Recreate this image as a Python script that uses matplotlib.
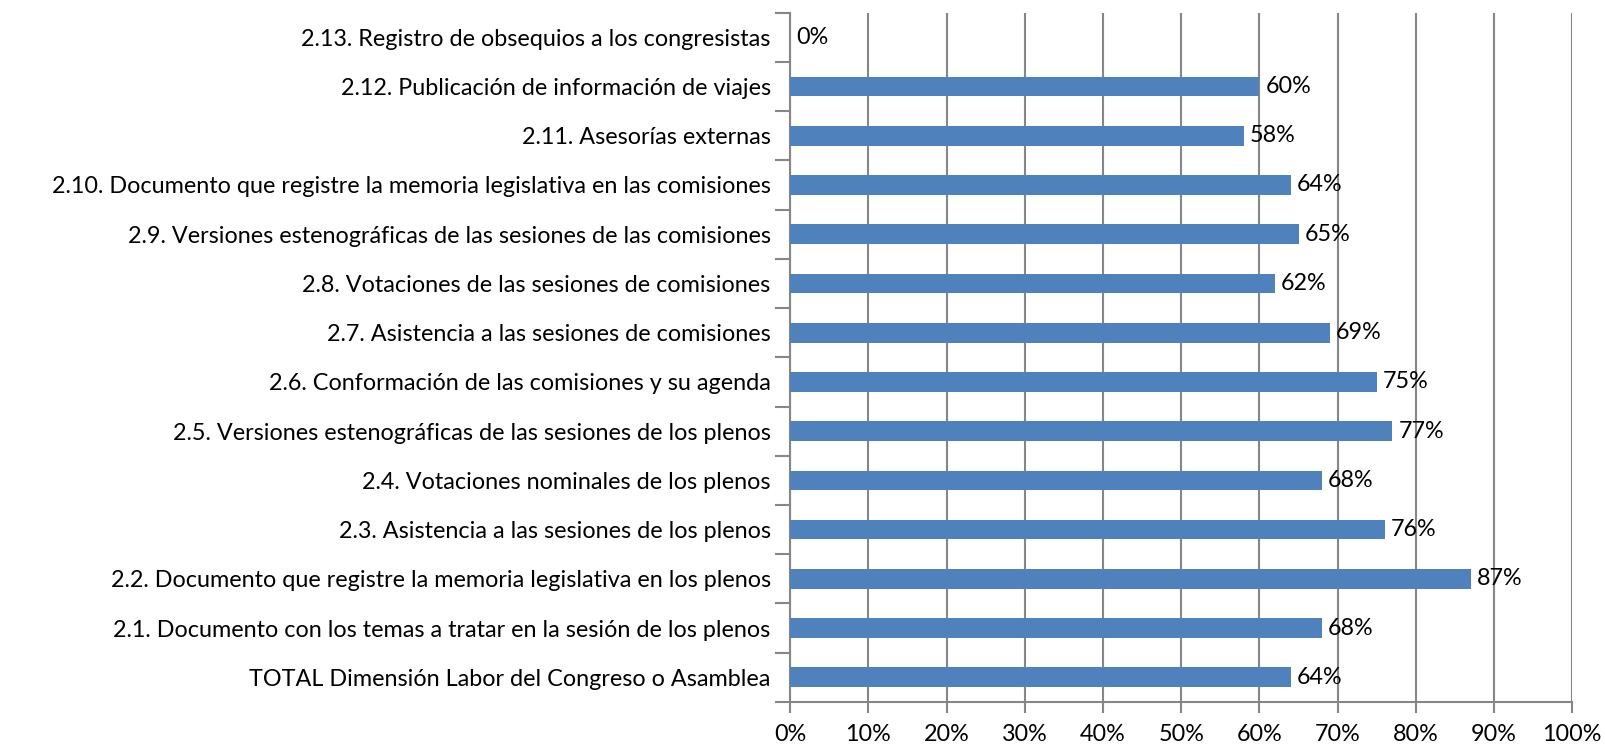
import matplotlib
matplotlib.use("Agg")
import matplotlib.pyplot as plt
import numpy as np
from matplotlib.ticker import FixedLocator, PercentFormatter

categories = [
    "TOTAL Dimensión Labor del Congreso o Asamblea",
    "2.1. Documento con los temas a tratar en la sesión de los plenos",
    "2.2. Documento que registre la memoria legislativa en los plenos",
    "2.3. Asistencia a las sesiones de los plenos",
    "2.4. Votaciones nominales de los plenos",
    "2.5. Versiones estenográficas de las sesiones de los plenos",
    "2.6. Conformación de las comisiones y su agenda",
    "2.7. Asistencia a las sesiones de comisiones",
    "2.8. Votaciones de las sesiones de comisiones",
    "2.9. Versiones estenográficas de las sesiones de las comisiones",
    "2.10. Documento que registre la memoria legislativa en las comisiones",
    "2.11. Asesorías externas",
    "2.12. Publicación de información de viajes",
    "2.13. Registro de obsequios a los congresistas",
]
values = [64, 68, 87, 76, 68, 77, 75, 69, 62, 65, 64, 58, 60, 0]
value_labels = [f"{v}%" for v in values]

plt.rcParams['font.family'] = ['Lato', 'DejaVu Sans']
FS = 16.8
fig = plt.figure(figsize=(16.06, 7.44), dpi=100)
ax = fig.add_axes([0.492, 0.0565, 0.487, 0.9265])

y = np.arange(len(categories))
ax.barh(y, np.array(values) / 100, height=0.4, color="#4F81BD", zorder=3)
for yi, v, lab in zip(y, values, value_labels):
    ax.annotate(lab, (v / 100, yi), xytext=(6, 0), textcoords="offset pixels",
                va="center", ha="left", fontsize=FS, color="black", zorder=4,
                annotation_clip=False)

ax.set_xlim(0, 1)
ax.set_ylim(-0.5, len(categories) - 0.5)
ax.set_xticks(np.arange(0, 1.01, 0.1))
ax.xaxis.set_major_formatter(PercentFormatter(1.0, decimals=0))
ax.set_yticks(y)
ax.set_yticklabels(categories)
ax.yaxis.set_minor_locator(FixedLocator(np.arange(-0.5, len(categories), 1)))
ax.tick_params(axis="y", which="major", length=0, pad=14, labelsize=FS)
ax.tick_params(axis="y", which="minor", length=11, width=1.5, color="#868686", direction="out")
ax.tick_params(axis="x", which="major", length=8, width=1.5, color="#868686", labelsize=FS, pad=8)
ax.grid(axis="x", color="#868686", linewidth=1.5, zorder=0)
for s in ["top", "right"]:
    ax.spines[s].set_visible(False)
for s in ["left", "bottom"]:
    ax.spines[s].set_color("#868686")
    ax.spines[s].set_linewidth(1.5)

fig.savefig("out.png", dpi=100)
